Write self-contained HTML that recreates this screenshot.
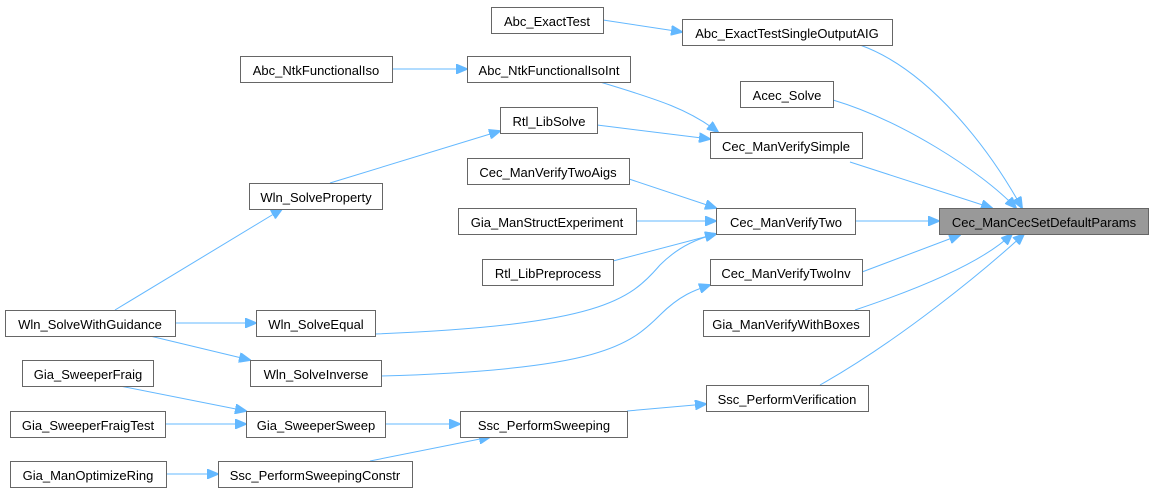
<!DOCTYPE html>
<html><head><meta charset="utf-8"><style>
html,body{margin:0;padding:0;background:#fff;}
svg{display:block;font-family:"Liberation Sans",Arial,sans-serif;font-size:13px;}
rect{fill:#fff;stroke:#666;stroke-width:1;}
path{fill:none;stroke:#63b8ff;stroke-width:1;}
text{fill:#000;text-anchor:middle;}
</style></head><body>
<svg width="1153" height="493" viewBox="0 0 1153 493">
<defs><marker id="a" markerWidth="12" markerHeight="10" refX="11" refY="5" orient="auto" markerUnits="userSpaceOnUse"><path d="M0,0 L12,5 L0,10 Z" style="fill:#63b8ff;stroke:#63b8ff"/></marker></defs>
<g marker-end="url(#a)">
<path d="M603,20 L682,32"/>
<path d="M860,45 C930,70 990,150 1022,208"/>
<path d="M392,69 L467,69"/>
<path d="M600,82 C660,100 690,110 718,132"/>
<path d="M833,100 C900,120 980,170 1016,208"/>
<path d="M597,125 L710,139"/>
<path d="M330,183 L500,131"/>
<path d="M850,162 L992,208"/>
<path d="M629,179 L716,208"/>
<path d="M636,221 L716,221"/>
<path d="M613,261 L716,234"/>
<path d="M855,221 L939,221"/>
<path d="M862,272 L960,235"/>
<path d="M115,310 L282,209"/>
<path d="M175,323 L256,323"/>
<path d="M375,334 C600,325 630,300 660,265 C680,245 700,238 716,234"/>
<path d="M150,336 L250,360"/>
<path d="M381,376 C600,370 630,345 660,315 C680,295 695,290 710,285"/>
<path d="M855,310 C930,285 985,260 1012,234"/>
<path d="M820,385 C900,340 985,270 1024,234"/>
<path d="M120,386 L246,411"/>
<path d="M165,424 L246,424"/>
<path d="M385,424 L460,424"/>
<path d="M627,411 L706,404"/>
<path d="M166,474 L218,474"/>
<path d="M370,461 L490,437"/>
</g>
<rect x="939.5" y="208.5" width="209" height="26" style="fill:#999"/><text x="1044" y="227">Cec_ManCecSetDefaultParams</text>
<rect x="491.5" y="7.5" width="112" height="26"/><text x="547" y="26">Abc_ExactTest</text>
<rect x="682.5" y="19.5" width="210" height="26"/><text x="787" y="38">Abc_ExactTestSingleOutputAIG</text>
<rect x="240.5" y="56.5" width="152" height="26"/><text x="316" y="75">Abc_NtkFunctionalIso</text>
<rect x="467.5" y="56.5" width="163" height="26"/><text x="549" y="75">Abc_NtkFunctionalIsoInt</text>
<rect x="740.5" y="81.5" width="93" height="26"/><text x="787" y="100">Acec_Solve</text>
<rect x="500.5" y="107.5" width="97" height="26"/><text x="549" y="126">Rtl_LibSolve</text>
<rect x="710.5" y="132.5" width="152" height="26"/><text x="786" y="151">Cec_ManVerifySimple</text>
<rect x="249.5" y="183.5" width="133" height="26"/><text x="316" y="202">Wln_SolveProperty</text>
<rect x="467.5" y="158.5" width="162" height="26"/><text x="548" y="177">Cec_ManVerifyTwoAigs</text>
<rect x="458.5" y="208.5" width="178" height="26"/><text x="547" y="227">Gia_ManStructExperiment</text>
<rect x="716.5" y="208.5" width="139" height="26"/><text x="786" y="227">Cec_ManVerifyTwo</text>
<rect x="482.5" y="259.5" width="131" height="26"/><text x="548" y="278">Rtl_LibPreprocess</text>
<rect x="710.5" y="259.5" width="152" height="26"/><text x="786" y="278">Cec_ManVerifyTwoInv</text>
<rect x="5.5" y="310.5" width="170" height="26"/><text x="90" y="329">Wln_SolveWithGuidance</text>
<rect x="256.5" y="310.5" width="119" height="26"/><text x="316" y="329">Wln_SolveEqual</text>
<rect x="703.5" y="310.5" width="166" height="26"/><text x="786" y="329">Gia_ManVerifyWithBoxes</text>
<rect x="22.5" y="360.5" width="131" height="26"/><text x="88" y="379">Gia_SweeperFraig</text>
<rect x="250.5" y="360.5" width="131" height="26"/><text x="316" y="379">Wln_SolveInverse</text>
<rect x="706.5" y="385.5" width="162" height="26"/><text x="787" y="404">Ssc_PerformVerification</text>
<rect x="10.5" y="411.5" width="155" height="26"/><text x="88" y="430">Gia_SweeperFraigTest</text>
<rect x="246.5" y="411.5" width="139" height="26"/><text x="316" y="430">Gia_SweeperSweep</text>
<rect x="460.5" y="411.5" width="167" height="26"/><text x="544" y="430">Ssc_PerformSweeping</text>
<rect x="10.5" y="461.5" width="156" height="26"/><text x="88" y="480">Gia_ManOptimizeRing</text>
<rect x="218.5" y="461.5" width="194" height="26"/><text x="315" y="480">Ssc_PerformSweepingConstr</text>
</svg>
</body></html>
